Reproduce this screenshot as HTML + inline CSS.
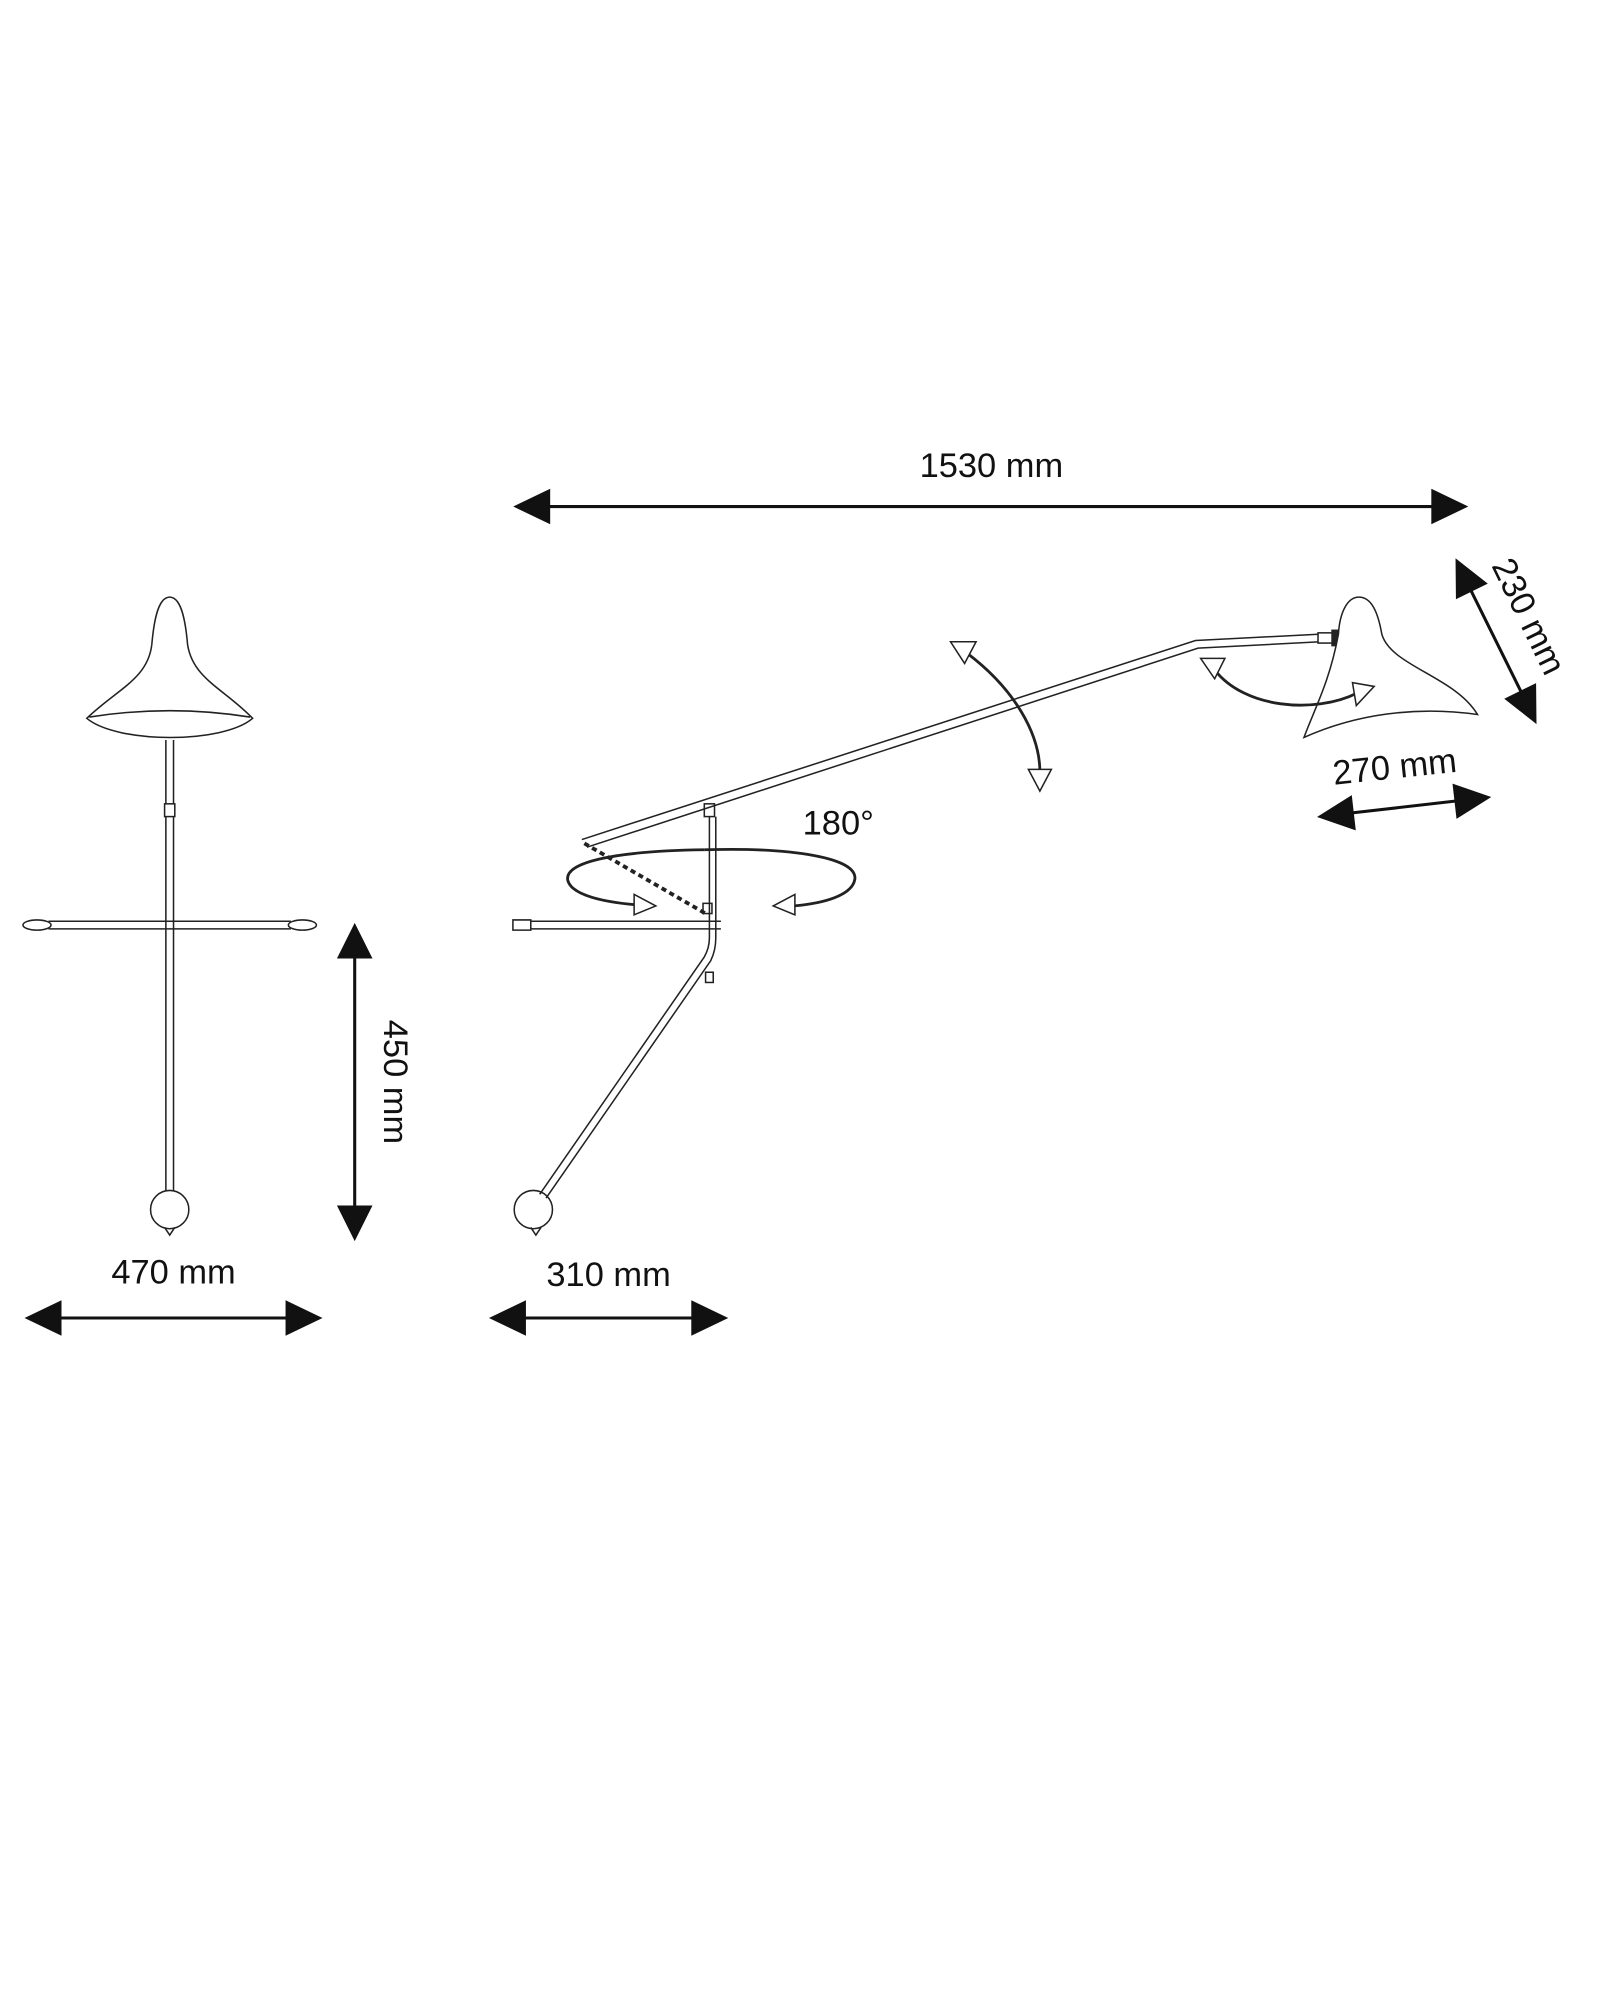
<!DOCTYPE html>
<html><head><meta charset="utf-8"><style>
html,body{margin:0;padding:0;background:#fff;}
svg{display:block;}
text{font-family:"Liberation Sans",sans-serif;font-size:27px;fill:#111;}
</style></head><body>
<svg width="1600" height="2000" viewBox="0 0 1254 1567" preserveAspectRatio="xMinYMin meet" xmlns="http://www.w3.org/2000/svg">
<g fill="none" stroke="#222" stroke-width="1.2">
<!-- LEFT LAMP -->
<path d="M68,563 C92,540 116,532 119,505 C121,482 125,468 133,468 C141,468 145,482 147,505 C151,532 176,540 198,563 C175,583 92,583 68,563 Z" fill="#fff"/>
<path d="M70,562 Q133,552 196,562"/>
<line x1="130" y1="580" x2="130" y2="935"/><line x1="136" y1="580" x2="136" y2="935"/>
<rect x="129" y="630" width="8" height="10" fill="#fff"/>
<line x1="38" y1="722" x2="228" y2="722"/><line x1="38" y1="728" x2="228" y2="728"/>
<ellipse cx="29" cy="725" rx="11" ry="4"/><ellipse cx="237" cy="725" rx="11" ry="4"/>
<circle cx="133" cy="948" r="15" fill="#fff"/>
<path d="M129,962 L133,968 L137,962"/>
<!-- RIGHT LAMP -->
<circle cx="418" cy="948" r="15" fill="#fff"/>
<path d="M416,962 L420,968 L424,962"/>
<path d="M423,936 L552,750 Q556,743 556,735 L556,640"/>
<path d="M428,939 L557,753 Q561,745 561,735 L561,640"/>
<line x1="416" y1="722" x2="565" y2="722"/><line x1="416" y1="728" x2="565" y2="728"/>
<path d="M402,721 L416,721 L416,729 L402,729 Z"/>
<rect x="552" y="630" width="8" height="10" fill="#fff"/>
<rect x="551" y="708" width="7" height="8"/>
<rect x="553" y="762" width="6" height="8"/>
<path d="M456,658 L937,502 L1035,497"/>
<path d="M460,664 L939,508 L1035,503"/>
<path d="M458,661 L553,716" stroke-width="3" stroke-dasharray="4 3"/>
<rect x="1033" y="496" width="12" height="8" fill="#fff"/>
<rect x="1044" y="494" width="5" height="12" fill="#222"/>
<!-- right shade -->
<path d="M1049,497 C1050,480 1056,468 1065,468 C1075,468 1080,480 1083,497 C1090,522 1140,530 1158,560 C1110,553 1062,560 1022,578 C1030,556 1042,535 1049,497 Z" fill="#fff"/>
<!-- rotation ellipse -->
<path d="M552,666 C620,664 672,672 670,689 C668,702 645,708 622,710" stroke-width="2.2"/>
<path d="M552,666 C480,667 442,676 445,690 C448,702 475,707 497,709" stroke-width="2.2"/>
<path d="M497,701 L514,710 L497,717 Z" fill="#fff"/>
<path d="M623,701 L606,710 L623,717 Z" fill="#fff"/>
<!-- arm tilt arc -->
<path d="M758,512 C795,540 815,575 815,605" stroke-width="2.2"/>
<path d="M745,503 L765,503 L756,520 Z" fill="#fff"/>
<path d="M806,603 L824,603 L815,620 Z" fill="#fff"/>
<!-- shade tilt arc -->
<path d="M952,525 C975,555 1030,560 1064,543" stroke-width="2.2"/>
<path d="M941,516 L960,516 L952,532 Z" fill="#fff"/>
<path d="M1060,535 L1077,538 L1063,553 Z" fill="#fff"/>
</g>
<g stroke="#111" stroke-width="2.4" fill="#111">
<line x1="420" y1="397" x2="1130" y2="397"/>
<path d="M405,397 L430,385 L430,409 Z"/><path d="M1148,397 L1123,385 L1123,409 Z"/>
<line x1="278" y1="745" x2="278" y2="950"/>
<path d="M278,726 L266,750 L290,750 Z"/><path d="M278,970 L266,946 L290,946 Z"/>
<line x1="40" y1="1033" x2="232" y2="1033"/>
<path d="M22,1033 L47,1021 L47,1045 Z"/><path d="M250,1033 L225,1021 L225,1045 Z"/>
<line x1="402" y1="1033" x2="552" y2="1033"/>
<path d="M386,1033 L411,1021 L411,1045 Z"/><path d="M568,1033 L543,1021 L543,1045 Z"/>
<line x1="1149" y1="455" x2="1196" y2="550"/>
<g transform="translate(1142,440) rotate(63.8)"><path d="M0,0 L25,-12 L25,12 Z"/></g>
<g transform="translate(1203,565) rotate(243.8)"><path d="M0,0 L25,-12 L25,12 Z"/></g>
<line x1="1052" y1="638" x2="1148" y2="627"/>
<g transform="translate(1035,640) rotate(-6.5)"><path d="M0,0 L25,-12 L25,12 Z"/></g>
<g transform="translate(1166,625) rotate(173.5)"><path d="M0,0 L25,-12 L25,12 Z"/></g>
</g>
<text x="777" y="374" text-anchor="middle">1530 mm</text>
<text x="136" y="1006" text-anchor="middle">470 mm</text>
<text x="477" y="1008" text-anchor="middle">310 mm</text>
<text x="657" y="654" text-anchor="middle">180°</text>
<text transform="translate(301,848) rotate(90)" text-anchor="middle">450 mm</text>
<text transform="translate(1190,487) rotate(64)" text-anchor="middle">230 mm</text>
<text transform="translate(1094,610) rotate(-6)" text-anchor="middle">270 mm</text>
</svg>
</body></html>
